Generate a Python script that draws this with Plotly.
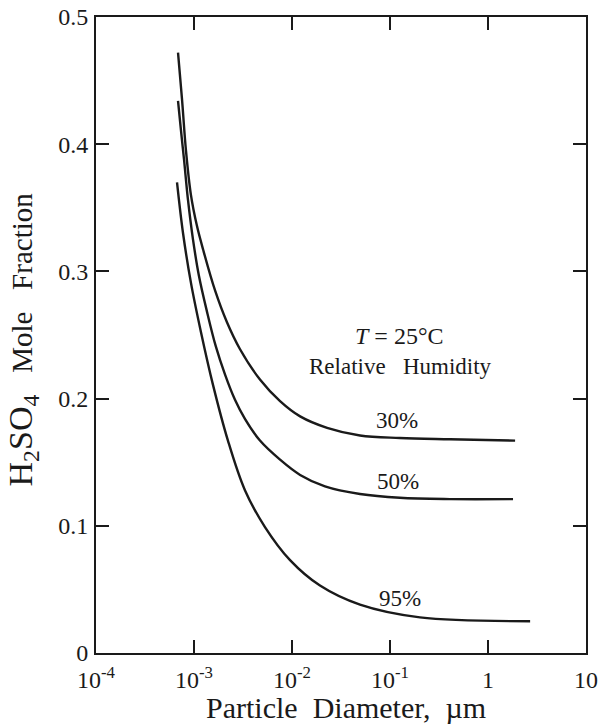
import plotly.graph_objects as go

# Particle diameter (µm) and H2SO4 mole fraction
d_30 = [6.87e-4, 7.55e-4, 8.28e-4, 9.31e-4, 1.07e-3, 1.24e-3, 1.64e-3, 2.17e-3,
        2.94e-3, 4.71e-3, 7.55e-3, 1.21e-2, 2.28e-2, 4.94e-2, 0.126, 0.409, 1.89]
x_30 = [0.472, 0.435, 0.395, 0.360, 0.336, 0.317, 0.285, 0.260,
        0.239, 0.215, 0.198, 0.186, 0.177, 0.171, 0.169, 0.168, 0.167]

d_50 = [6.87e-4, 7.36e-4, 7.91e-4, 8.69e-4, 9.77e-4, 1.12e-3, 1.36e-3, 1.67e-3,
        2.07e-3, 2.62e-3, 3.31e-3, 4.71e-3, 7.55e-3, 1.21e-2, 2.17e-2, 4.94e-2,
        0.126, 0.409, 1.80]
x_50 = [0.434, 0.411, 0.388, 0.356, 0.325, 0.297, 0.268, 0.241,
        0.219, 0.199, 0.184, 0.167, 0.152, 0.140, 0.131, 0.125,
        0.122, 0.121, 0.121]

d_95 = [6.71e-4, 7.73e-4, 9.31e-4, 1.18e-3, 1.56e-3, 2.22e-3, 3.31e-3, 5.30e-3,
        9.55e-3, 1.93e-2, 4.94e-2, 0.202, 2.69]
x_95 = [0.370, 0.330, 0.291, 0.252, 0.211, 0.167, 0.128, 0.099,
        0.073, 0.053, 0.038, 0.028, 0.025]

series_names = ["30%", "50%", "95%"]
x_tickvals = [1e-4, 1e-3, 1e-2, 1e-1, 1, 10]
x_ticktext = ["10<sup>-4</sup>", "10<sup>-3</sup>", "10<sup>-2</sup>",
              "10<sup>-1</sup>", "1", "10"]
y_tickvals = [0, 0.1, 0.2, 0.3, 0.4, 0.5]
y_ticktext = ["0", "0.1", "0.2", "0.3", "0.4", "0.5"]

FONT = "Liberation Serif, Times New Roman, serif"
INK = "#1a1a1a"

fig = go.Figure()
for d, v, name in [(d_30, x_30, "30%"), (d_50, x_50, "50%"), (d_95, x_95, "95%")]:
    fig.add_trace(go.Scatter(x=d, y=v, mode="lines", name=name,
                             line=dict(color=INK, width=2.4, shape="spline", smoothing=1.0),
                             showlegend=False, hoverinfo="skip"))

# curve labels (x in log10 units on the log axis)
label_pos = {"30%": (-0.93, 0.183), "50%": (-0.92, 0.135), "95%": (-0.90, 0.043)}
for name in series_names:
    lx, ly = label_pos[name]
    fig.add_annotation(x=lx, y=ly, xref="x", yref="y", text=name, showarrow=False,
                       font=dict(family=FONT, size=23, color=INK),
                       xanchor="center", yanchor="middle")

fig.add_annotation(x=-0.90, y=0.249, xref="x", yref="y",
                   text="<i>T</i> = 25°C", showarrow=False,
                   font=dict(family=FONT, size=24, color=INK),
                   xanchor="center", yanchor="middle")
fig.add_annotation(x=-0.89, y=0.225, xref="x", yref="y",
                   text="Relative\u00a0\u00a0\u00a0Humidity", showarrow=False,
                   font=dict(family=FONT, size=23, color=INK),
                   xanchor="center", yanchor="middle")

# axis titles
fig.add_annotation(x=0.51, y=0, xref="paper", yref="paper", yshift=-54,
                   text="Particle\u00a0\u00a0Diameter,\u00a0\u00a0µm",
                   showarrow=False, font=dict(family=FONT, size=30, color=INK),
                   xanchor="center", yanchor="middle")
fig.add_annotation(x=0, y=0.493, xref="paper", yref="paper", xshift=-73,
                   text="<span style='font-size:34px'>H<sub>2</sub>SO<sub>4</sub></span>"
                        "\u00a0\u00a0\u00a0Mole\u00a0\u00a0\u00a0Fraction",
                   textangle=-90, showarrow=False,
                   font=dict(family=FONT, size=29, color=INK),
                   xanchor="center", yanchor="middle")

axis_common = dict(showline=True, linecolor=INK, linewidth=2, mirror="allticks",
                   ticks="inside", ticklen=13, tickwidth=2, tickcolor=INK,
                   showgrid=False, zeroline=False, automargin=False,
                   tickfont=dict(family=FONT, size=24, color=INK))

fig.update_xaxes(type="log", range=[-4, 1], tickmode="array",
                 tickvals=x_tickvals, ticktext=x_ticktext,
                 ticklabelstandoff=4, **axis_common)
fig.update_yaxes(range=[0, 0.5], tickmode="array",
                 tickvals=y_tickvals, ticktext=y_ticktext,
                 ticklabelstandoff=1, **axis_common)

fig.update_layout(width=600, height=724, margin=dict(l=96, r=14, t=17, b=71),
                  paper_bgcolor="white", plot_bgcolor="white",
                  font=dict(family=FONT, color=INK))

fig.write_html("out.html")
